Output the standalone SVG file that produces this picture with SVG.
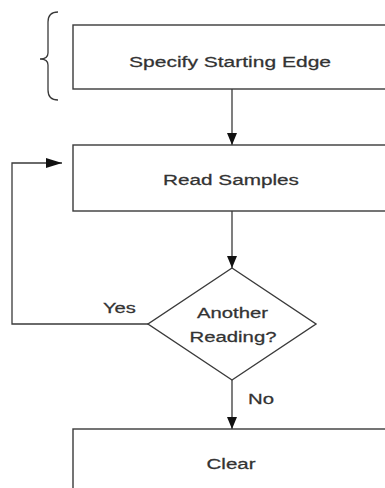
<svg xmlns="http://www.w3.org/2000/svg" width="385" height="488" viewBox="0 0 385 488">
<defs>
<style>
.box{fill:#fff;stroke:#3a3a3a;stroke-width:1.4}
.ln{fill:none;stroke:#3a3a3a;stroke-width:1.3}
.t{font-family:"Liberation Sans",Arial,sans-serif;font-size:14px;fill:#333;stroke:#333;stroke-width:0.25;text-anchor:middle}
.lb{font-family:"Liberation Sans",Arial,sans-serif;font-size:14px;fill:#333;stroke:#333;stroke-width:0.25}
</style>
<marker id="av" markerUnits="userSpaceOnUse" markerWidth="12" markerHeight="12" viewBox="0 0 12 12" refX="12" refY="6" orient="auto">
<path d="M0,1 L12,6 L0,11 Z" fill="#111"/>
</marker>
<marker id="ah" markerUnits="userSpaceOnUse" markerWidth="16" markerHeight="12" viewBox="0 0 16 12" refX="16" refY="6" orient="auto">
<path d="M0,1 L16,6 L0,11 Z" fill="#111"/>
</marker>
</defs>
<g id="brace">
<path class="ln" d="M58,12 Q48,12 48,22 L48,53 Q48,59 40,59 Q48,59 48,65 L48,90 Q48,100 58,100"/>
</g>
<g id="connectors">
<path class="ln" d="M232,89 L232,145" marker-end="url(#av)"/>
<path class="ln" d="M232,211 L232,268" marker-end="url(#av)"/>
<path class="ln" d="M232,380 L232,429" marker-end="url(#av)"/>
<path class="ln" d="M148,324 L12,324 L12,163 L62,163" marker-end="url(#ah)"/>
<text class="lb" transform="translate(103,313) scale(1.47,1)" textLength="22.4" lengthAdjust="spacingAndGlyphs">Yes</text>
<text class="lb" transform="translate(248,404) scale(1.47,1)" textLength="17.7" lengthAdjust="spacingAndGlyphs">No</text>
</g>
<g id="n1">
<rect class="box" x="73" y="25" width="320" height="64"/>
<text class="t" transform="translate(230,67) scale(1.47,1)" textLength="137.4" lengthAdjust="spacingAndGlyphs">Specify Starting Edge</text>
</g>
<g id="n2">
<rect class="box" x="73" y="145" width="320" height="66"/>
<text class="t" transform="translate(231,185) scale(1.47,1)" textLength="92.5" lengthAdjust="spacingAndGlyphs">Read Samples</text>
</g>
<g id="n3">
<polygon class="box" points="232,268 316,324 232,380 148,324"/>
<text class="t" transform="translate(232.5,318) scale(1.47,1)" textLength="48.3" lengthAdjust="spacingAndGlyphs">Another</text>
<text class="t" transform="translate(233,342) scale(1.47,1)" textLength="59.2" lengthAdjust="spacingAndGlyphs">Reading?</text>
</g>
<g id="n4">
<rect class="box" x="73" y="429" width="320" height="70"/>
<text class="t" transform="translate(231,469) scale(1.47,1)" textLength="33.3" lengthAdjust="spacingAndGlyphs">Clear</text>
</g>
</svg>
